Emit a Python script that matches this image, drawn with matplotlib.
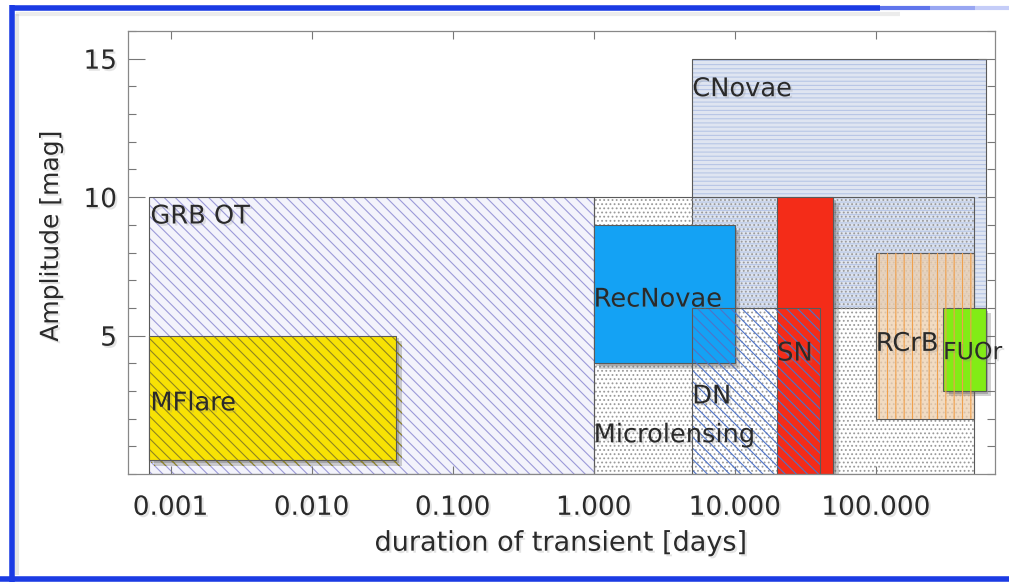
import numpy as np
import matplotlib
matplotlib.use("Agg")
import matplotlib.pyplot as plt
from matplotlib.patches import Rectangle
from matplotlib.lines import Line2D
from matplotlib.ticker import FixedLocator, NullLocator
import matplotlib.patheffects as pe

plt.rcParams["font.family"] = ["DejaVu Sans"]
plt.rcParams["hatch.linewidth"] = 0.8

# transient classes: duration range [days] and amplitude range [mag]
names = ["CNovae", "GRB OT", "Microlensing", "MFlare", "RecNovae", "SN", "DN", "RCrB", "FUOr"]
dur_lo = [5.0, 0.0007, 1.0, 0.0007, 1.0, 20.0, 5.0, 100.0, 300.0]
dur_hi = [600.0, 1.0, 500.0, 0.04, 10.0, 50.0, 40.0, 500.0, 600.0]
amp_lo = [6.0, 0.0, 0.0, 0.5, 4.0, 0.0, 0.0, 2.0, 3.0]
amp_hi = [15.0, 10.0, 10.0, 5.0, 9.0, 10.0, 6.0, 8.0, 6.0]

# where each class name is written (duration, amplitude)
label_x = [5.0, 0.00072, 1.0, 0.00072, 1.0, 20.0, 5.0, 100.0, 300.0]
label_y = [13.9, 9.3, 1.4, 2.55, 6.3, 4.35, 2.8, 4.7, 4.4]

xtick_vals = [0.001, 0.01, 0.1, 1.0, 10.0, 100.0]
xtick_text = ["0.001", "0.010", "0.100", "1.000", "10.000", "100.000"]
ytick_vals = [5, 10, 15]

# face, hatch, hatch colour, shadow
style = {
    "CNovae": ("#dfe5f1", "----", "#b7c6e6", False),
    "GRB OT": ("#f3f3fb", "\\\\\\", "#9c9ad8", False),
    "Microlensing": ("none", "....", "#9a9a9a", False),
    "MFlare": ("#f8e204", "\\\\\\", "#8f8420", True),
    "RecNovae": ("#14a2f4", None, None, True),
    "SN": ("#f42c18", None, None, True),
    "DN": ("none", "\\\\\\", "#4f74c8", False),
    "RCrB": ("#edcfae", None, None, False),
    "FUOr": ("#82ec16", None, None, True),
}

txt_col = "#2a2a2a"
shadow_txt = [pe.withSimplePatchShadow(offset=(1.5, -1.5), shadow_rgbFace="#888888", alpha=0.22)]

fig = plt.figure(figsize=(10.09, 5.82), dpi=100)
ax = fig.add_axes([0.1269, 0.1856, 0.8592, 0.7611])
ax.set_xscale("log")
ax.set_xlim(0.0005, 700)
ax.set_ylim(0, 16)

for k, nm in enumerate(names):
    face, hatch, hcol, shadow = style[nm]
    x0, x1 = dur_lo[k], dur_hi[k]
    y0, y1 = amp_lo[k], amp_hi[k]
    z = 1 + k * 0.1
    if nm == "RCrB":
        body = Rectangle((x0, y0), x1 - x0, y1 - y0, facecolor=face, alpha=0.75,
                         edgecolor="none", lw=0, zorder=z)
    else:
        body = Rectangle((x0, y0), x1 - x0, y1 - y0, facecolor=face,
                         edgecolor=hcol if hcol else "none", hatch=hatch, lw=0, zorder=z)
    if shadow:
        body.set_path_effects([pe.SimplePatchShadow(offset=(4, -4), shadow_rgbFace="#666666", alpha=0.3),
                               pe.SimplePatchShadow(offset=(2, -2), shadow_rgbFace="#555555", alpha=0.3),
                               pe.Normal()])
    ax.add_patch(body)
    ax.add_patch(Rectangle((x0, y0), x1 - x0, y1 - y0, fill=False,
                           edgecolor="#5a5a5a", lw=0.8, zorder=z + 0.01))

# vertical stripes of RCrB sit on top of FUOr
k = names.index("RCrB")
ax.add_patch(Rectangle((dur_lo[k], amp_lo[k]), dur_hi[k] - dur_lo[k], amp_hi[k] - amp_lo[k],
                       facecolor="none", edgecolor="#f0a04c", hatch="||", lw=0, zorder=3))

for k, nm in enumerate(names):
    fs = 17 if nm == "FUOr" else 18.5
    ax.text(label_x[k], label_y[k], nm, fontsize=fs, color=txt_col, ha="left", va="center",
            zorder=5, clip_on=False, path_effects=shadow_txt)

ax.xaxis.set_major_locator(FixedLocator(xtick_vals))
ax.xaxis.set_minor_locator(NullLocator())
ax.set_xticklabels(xtick_text)
ax.set_yticks(ytick_vals)
ax.set_yticks(np.arange(0, 17, 1), minor=True)
ax.tick_params(which="both", direction="in", top=True, right=True, color="#777777",
               labelsize=19, labelcolor=txt_col)
ax.tick_params(which="major", axis="y", length=12, width=0.8, pad=8)
ax.tick_params(which="minor", axis="y", length=6, width=0.8)
ax.tick_params(which="major", axis="x", length=6, width=0.8, pad=15)
for lab in ax.get_xticklabels() + ax.get_yticklabels():
    lab.set_path_effects(shadow_txt)
for sp in ax.spines.values():
    sp.set_color("#888888")
    sp.set_linewidth(0.9)

ax.set_xlabel("duration of transient [days]", fontsize=19.5, color=txt_col,
              path_effects=shadow_txt)
ax.xaxis.set_label_coords(0.5, -0.128)
ax.set_ylabel("Amplitude [mag]", fontsize=18, color=txt_col, path_effects=shadow_txt)
ax.yaxis.set_label_coords(-0.075, 0.537)

# blue frame around the slide
W, H = 1009.0, 582.0
blue = "#1b3be4"
def fline(xs, ys, **kw):
    fig.add_artist(Line2D(np.array(xs) / W, 1 - np.array(ys) / H,
                          transform=fig.transFigure, solid_capstyle="butt", **kw))

fline([17, 17], [14, 575], color="#999999", lw=3, alpha=0.25)
fline([16, 900], [14, 14], color="#999999", lw=3, alpha=0.18)
fline([12, 12], [5, 582], color=blue, lw=4.0)
fline([10, 880], [8, 8], color=blue, lw=4.0)
for a, (xa, xb) in zip([0.7, 0.45, 0.25], [(880, 930), (930, 975), (975, 1009)]):
    fline([xa, xb], [8, 8], color=blue, lw=3.0, alpha=a)
fline([0, 1009], [579, 579], color=blue, lw=4.0)

fig.savefig("out.png", dpi=100)
